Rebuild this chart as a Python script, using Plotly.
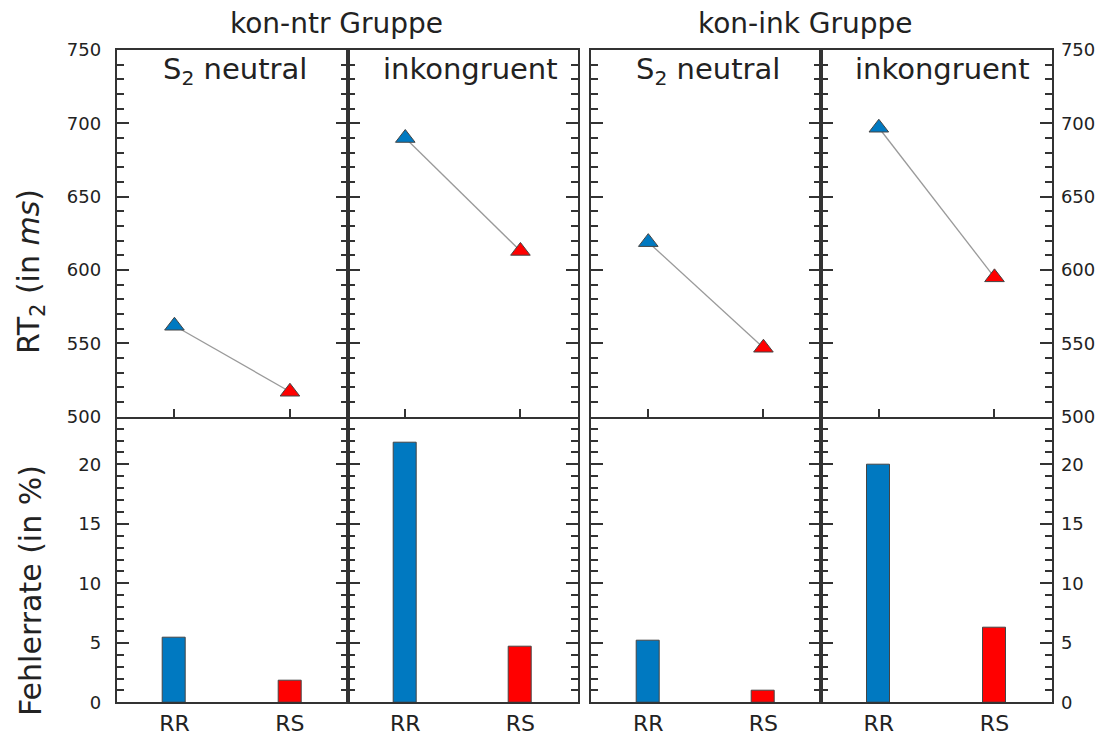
import plotly.graph_objects as go

# ---------------- data ----------------
groups = ["kon-ntr Gruppe", "kon-ink Gruppe"]
conditions = ["S<sub>2</sub> neutral", "inkongruent"]
categories = ["RR", "RS"]

rt_kon_ntr_neutral = [562, 517]
rt_kon_ntr_inkongruent = [690, 613]
rt_kon_ink_neutral = [619, 547]
rt_kon_ink_inkongruent = [697, 595]

err_kon_ntr_neutral = [5.4, 1.8]
err_kon_ntr_inkongruent = [21.8, 4.7]
err_kon_ink_neutral = [5.2, 1.0]
err_kon_ink_inkongruent = [20.0, 6.25]

rt_ticks = [500, 550, 600, 650, 700, 750]
err_ticks = [0, 5, 10, 15, 20]

rt_panels = [rt_kon_ntr_neutral, rt_kon_ntr_inkongruent, rt_kon_ink_neutral, rt_kon_ink_inkongruent]
err_panels = [err_kon_ntr_neutral, err_kon_ntr_inkongruent, err_kon_ink_neutral, err_kon_ink_inkongruent]

# ---------------- style ----------------
W, H = 1106, 733
FONT = "DejaVu Sans"
AX = "#333333"
BLUE = "#0079C1"
RED = "#FF0000"
COLORS = [BLUE, RED]

col_px = [(116.7, 347.7), (347.7, 578.0), (590.7, 821.0), (821.0, 1052.3)]
top_px = (50.0, 416.7)
bot_px = (416.7, 702.3)


def xd(a, b):
    return [a / W, b / W]


def yd(a, b):
    return [1 - b / H, 1 - a / H]


fig = go.Figure()
layout = {}

for c in range(4):
    xt, yt = c + 1, c + 1
    xb, yb = c + 5, c + 5
    xo = c + 9
    # top: RT line + triangles
    fig.add_trace(go.Scatter(
        x=categories, y=rt_panels[c], mode="lines+markers",
        line=dict(color="#9a9a9a", width=1.3),
        marker=dict(symbol="triangle-up", size=17, color=COLORS,
                    line=dict(color="#444444", width=1)),
        xaxis=f"x{xt}", yaxis=f"y{yt}", showlegend=False, hoverinfo="skip"))
    # bottom: error bars
    fig.add_trace(go.Bar(
        x=categories, y=err_panels[c], width=0.2,
        marker=dict(color=COLORS, line=dict(color="#444444", width=1)),
        xaxis=f"x{xb}", yaxis=f"y{yb}", showlegend=False, hoverinfo="skip"))

    common_x = dict(domain=xd(*col_px[c]), type="category", categoryarray=categories,
                    range=[-0.5, 1.5], showline=True, linecolor=AX, linewidth=2,
                    showgrid=False, zeroline=False, fixedrange=True,
                    automargin=False)
    layout[f"xaxis{xt}"] = dict(common_x, anchor=f"y{yt}", mirror=True, ticks="inside",
                                ticklen=8, tickwidth=2, tickcolor=AX, showticklabels=False)
    layout[f"xaxis{xb}"] = dict(common_x, anchor=f"y{yb}", mirror=False, ticks="",
                                tickfont=dict(family=FONT, size=22, color="#222"),
                                ticklabelstandoff=0)
    layout[f"xaxis{xo}"] = dict(overlaying=f"x{xb}", anchor=f"y{yb}", side="top",
                                range=[-0.5, 1.5], tickvals=list(range(len(categories))),
                                ticks="inside", ticklen=8, tickwidth=2, tickcolor=AX,
                                showline=False, showticklabels=False, showgrid=False,
                                zeroline=False, fixedrange=True, automargin=False)

    side = "right" if c == 3 else "left"
    show_lab = c in (0, 3)
    common_y = dict(showline=True, linecolor=AX, linewidth=2, mirror="ticks",
                    ticks="inside", ticklen=12, tickwidth=2, tickcolor=AX,
                    showgrid=False, zeroline=False, side=side,
                    showticklabels=show_lab, fixedrange=True, automargin=False,
                    tickfont=dict(family=FONT, size=18, color="#222"),
                    ticklabelstandoff=3 if c == 3 else 10)
    layout[f"yaxis{yt}"] = dict(common_y, domain=yd(*top_px), anchor=f"x{xt}",
                                range=[500, 750], tickvals=rt_ticks,
                                minor=dict(ticks="inside", ticklen=7, tickwidth=2,
                                           tickcolor=AX, dtick=10, showgrid=False))
    layout[f"yaxis{yb}"] = dict(common_y, domain=yd(*bot_px), anchor=f"x{xb}",
                                range=[0, 24], tickvals=err_ticks,
                                minor=dict(ticks="inside", ticklen=7, tickwidth=2,
                                           tickcolor=AX, dtick=1, showgrid=False))

annotations = []
# group titles
for g, (cx) in zip(groups, [336, 805]):
    annotations.append(dict(text=g, x=cx / W, y=1 - 24 / H, xref="paper", yref="paper",
                            showarrow=False, xanchor="center", yanchor="middle",
                            font=dict(family=FONT, size=28, color="#222")))
# panel titles
for c, cx in enumerate([235, 470, 708, 942]):
    annotations.append(dict(text=conditions[c % 2], x=cx / W, y=1 - 50 / H,
                            xref="paper", yref="paper", showarrow=False,
                            xanchor="center", yanchor="top",
                            font=dict(family=FONT, size=29, color="#222")))
# y-axis titles
annotations.append(dict(text="RT<sub>2</sub> (in <i>ms</i>)", x=30 / W, y=1 - 272 / H,
                        xref="paper", yref="paper", showarrow=False, textangle=-90,
                        xanchor="center", yanchor="middle",
                        font=dict(family=FONT, size=30, color="#222")))
annotations.append(dict(text="Fehlerrate (in %)", x=30 / W, y=1 - 591 / H,
                        xref="paper", yref="paper", showarrow=False, textangle=-90,
                        xanchor="center", yanchor="middle",
                        font=dict(family=FONT, size=30, color="#222")))

fig.update_layout(**layout)
fig.update_layout(width=W, height=H, margin=dict(l=0, r=0, t=0, b=0, autoexpand=False),
                  paper_bgcolor="white", plot_bgcolor="white",
                  annotations=annotations, bargap=0,
                  font=dict(family=FONT, color="#222"))

fig.write_html("out.html", config={"displayModeBar": False},
               post_script="document.body.style.margin='0';document.body.style.overflow='hidden';")
